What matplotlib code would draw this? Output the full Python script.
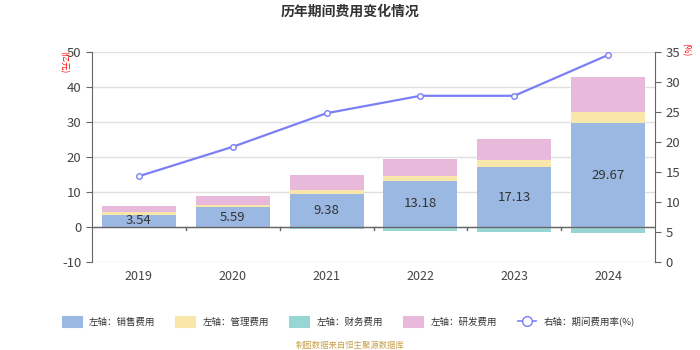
import numpy as np
import matplotlib
matplotlib.use("Agg")
import matplotlib.pyplot as plt
from matplotlib.patches import Patch
from matplotlib.lines import Line2D

plt.rcParams['font.family'] = ['Noto Sans CJK SC', 'DejaVu Sans']
plt.rcParams['axes.unicode_minus'] = False

years = ['2019', '2020', '2021', '2022', '2023', '2024']
sales = [3.54, 5.59, 9.38, 13.18, 17.13, 29.67]
admin = [0.75, 0.75, 1.2, 1.25, 1.95, 3.3]
finance = [-0.05, -0.3, -0.45, -1.1, -1.5, -1.7]
rnd = [1.75, 2.55, 4.3, 4.95, 6.1, 9.8]
rate = [14.3, 19.2, 24.8, 27.7, 27.7, 34.5]

c_sales = '#9bb8e2'
c_admin = '#f8e7a8'
c_fin = '#98d6d6'
c_rnd = '#e8b9da'
c_line = '#7b7ff5'

fig = plt.figure(figsize=(7, 3.5), dpi=100)
ax = fig.add_axes([92 / 700, 1 - 262 / 350, (655 - 92) / 700, (262 - 52) / 350])
ax2 = ax.twinx()

x = np.arange(len(years))
w = 0.79
sales = np.array(sales)
admin = np.array(admin)
ax.bar(x, sales, w, color=c_sales, zorder=2)
ax.bar(x, admin, w, bottom=sales, color=c_admin, zorder=2)
ax.bar(x, rnd, w, bottom=sales + admin, color=c_rnd, zorder=2)
ax.bar(x, finance, w, color=c_fin, zorder=2)
for xi, v in zip(x, sales):
    ax.text(xi, v / 2, f'{v:.2f}', ha='center', va='center', fontsize=9.5, color='#333333', zorder=3)

ax.set_xlim(-0.5, len(years) - 0.5)
ax.set_ylim(-10, 50)
ax.set_yticks(range(-10, 51, 10))
ax.grid(axis='y', color='#e0e0e0', linewidth=1, zorder=0)
ax.axhline(0, color='#666666', linewidth=1, zorder=3)
for b in x[:-1] + 0.5:
    ax.plot([b, b], [0, -0.9], color='#666666', linewidth=1, zorder=3, clip_on=False)
ax.set_xticks(x)
ax.set_xticklabels(years)
ax.tick_params(axis='x', length=0, pad=6, labelsize=9, colors='#444444')
ax.tick_params(axis='y', length=4, labelsize=9.5, colors='#444444', color='#666666')
for s in ['top', 'bottom', 'right']:
    ax.spines[s].set_visible(False)
ax.spines['left'].set_color('#666666')

ax2.plot(x, rate, color=c_line, linewidth=1.6, marker='o', markersize=4,
         markerfacecolor='white', markeredgecolor=c_line, zorder=4)
ax2.set_ylim(0, 35)
ax2.set_yticks(range(0, 36, 5))
ax2.tick_params(axis='y', length=4, labelsize=9.5, colors='#444444', color='#666666')
for s in ['top', 'bottom', 'left']:
    ax2.spines[s].set_visible(False)
ax2.spines['right'].set_color('#666666')

fig.text(64 / 700, 1 - 62 / 350, '(亿元)', color='red', fontsize=6, rotation=-90,
         ha='center', va='center')
fig.text(686 / 700, 1 - 50 / 350, '(%)', color='red', fontsize=6, rotation=-90,
         ha='center', va='center')

fig.text(0.5, 1 - 12 / 350, '历年期间费用变化情况', ha='center', va='center',
         fontsize=10, fontweight='bold', color='#333333')

handles = [Patch(facecolor=c, edgecolor=c, linewidth=1.5, joinstyle='round')
           for c in [c_sales, c_admin, c_fin, c_rnd]]
handles.append(Line2D([0], [0], color=c_line, marker='o', markerfacecolor='white', markersize=7,
                      linewidth=1.2))
labels = ['左轴：销售费用', '左轴：管理费用', '左轴：财务费用', '左轴：研发费用', '右轴：期间费用率(%)']
fig.legend(handles, labels, loc='center', bbox_to_anchor=(349 / 700, 1 - 322 / 350), ncol=5,
           frameon=False, fontsize=6.8, handlelength=2.0, handleheight=1.3,
           columnspacing=2.2, handletextpad=0.8, labelcolor='#333333')

fig.text(0.5, 1 - 345 / 350, '制图数据来自恒生聚源数据库', ha='center', va='center',
         fontsize=6, color='#c8a04a')

fig.savefig('out.png', dpi=100)
